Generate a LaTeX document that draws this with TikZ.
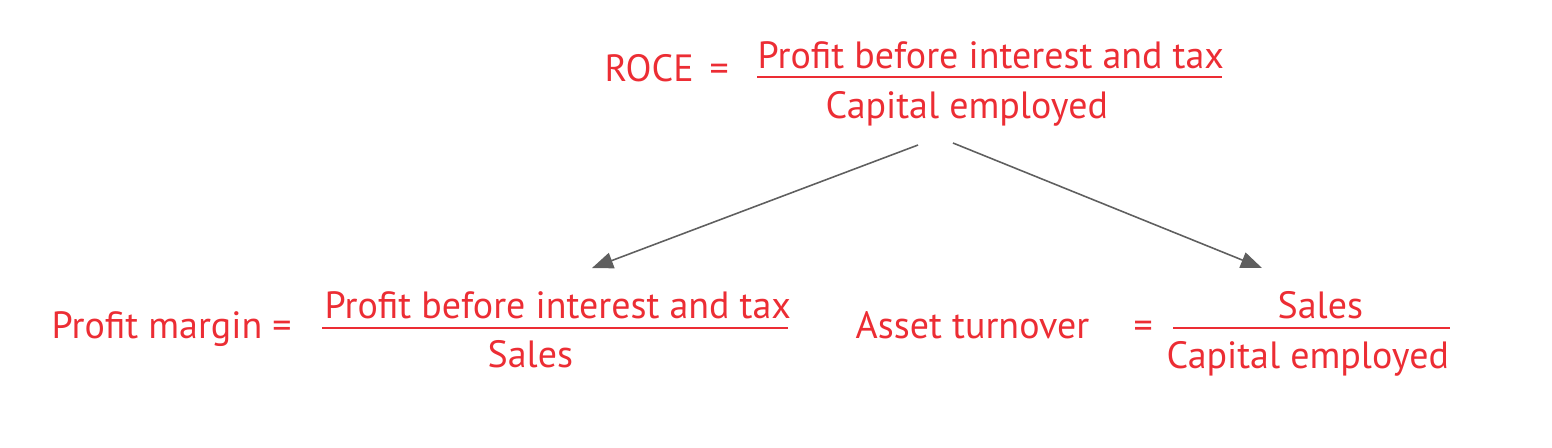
\documentclass[tikz,border=0pt]{standalone}
\usepackage{fontspec}
\setmainfont{PT Sans}
\usepackage{tikz}
\usetikzlibrary{arrows.meta}
\usepackage{xcolor}
\definecolor{ratiored}{RGB}{236,45,52}
\definecolor{arrowgray}{RGB}{95,95,95}

\begin{document}
\begin{tikzpicture}[x=0.01cm, y=-0.01cm,
  txt/.style={text=ratiored, inner sep=0pt, anchor=base west, font=\fontsize{10.8}{12}\selectfont},
  bar/.style={draw=ratiored, line width=0.6pt},
  arr/.style={draw=arrowgray, line width=0.45pt, -{Triangle[length=6pt, width=4.6pt]}}]
\useasboundingbox (0,0) rectangle (1552,447);
% ROCE
\node[txt] (roce) at (604,81) {ROCE};
\node[txt] (eqA) at (709,81) {=};
\node[txt] (numA) at (757,68) {Profit before interest and tax};
\node[txt] (denA) at (825,118) {Capital employed};
\draw[bar] (757,77) -- (1222,77);
% profit margin
\node[txt] (pm) at (51,338) {Profit margin =};
\node[txt] (numB) at (324,318) {Profit before interest and tax};
\node[txt] (denB) at (487,367) {Sales};
\draw[bar] (322,328) -- (788,328);
% asset turnover
\node[txt] (at) at (855,338) {Asset turnover};
\node[txt] (eqC) at (1133,338) {=};
\node[txt] (numC) at (1277,318) {Sales};
\node[txt] (denC) at (1166,368) {Capital employed};
\draw[bar] (1173,328) -- (1450,328);
% arrows
\coordinate (srcL) at (918,145);
\coordinate (srcR) at (953,143);
\coordinate (tipL) at (592,268);
\coordinate (tipR) at (1262,268);
\draw[arr] (srcL) -- (tipL);
\draw[arr] (srcR) -- (tipR);
\end{tikzpicture}
\end{document}
